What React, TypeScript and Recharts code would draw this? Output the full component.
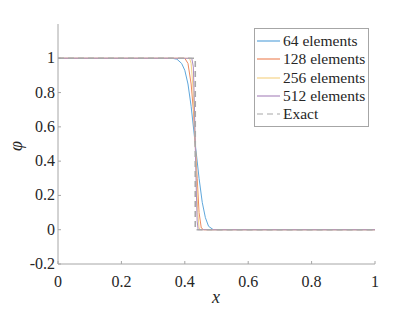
import { LineChart, Line, XAxis, YAxis } from "recharts";

// phi(x) profiles
const x64 = [0, 0.36, 0.375, 0.39, 0.4, 0.41, 0.42, 0.433, 0.445, 0.455, 0.465, 0.475, 0.49, 1];
const phi64 = [1, 1, 0.995, 0.97, 0.93, 0.85, 0.72, 0.5, 0.3, 0.16, 0.07, 0.02, 0, 0];

const x128 = [0, 0.4, 0.41, 0.42, 0.427, 0.433, 0.439, 0.445, 0.452, 0.46, 1];
const phi128 = [1, 1, 0.97, 0.85, 0.7, 0.5, 0.3, 0.1, 0.01, 0, 0];

const x256 = [0, 0.415, 0.42, 0.425, 0.43, 0.433, 0.437, 0.441, 0.445, 0.45, 1];
const phi256 = [1, 1, 0.97, 0.85, 0.65, 0.5, 0.3, 0.1, 0.01, 0, 0];

const x512 = [0, 0.422, 0.427, 0.43, 0.433, 0.436, 0.439, 0.442, 1];
const phi512 = [1, 1, 0.95, 0.75, 0.5, 0.25, 0.05, 0, 0];

const xExact = [0, 0.433, 0.433, 1];
const phiExact = [1, 1, 0, 0];

const xTicks = [0, 0.2, 0.4, 0.6, 0.8, 1];
const yTicks = [-0.2, 0, 0.2, 0.4, 0.6, 0.8, 1];

const zip = (xs: number[], ys: number[]) => xs.map((x, i) => ({ x, phi: ys[i] }));

const series = [
  { name: "64 elements", data: zip(x64, phi64), color: "#5fa7dc", dash: undefined },
  { name: "128 elements", data: zip(x128, phi128), color: "#ee8a60", dash: undefined },
  { name: "256 elements", data: zip(x256, phi256), color: "#f5d488", dash: undefined },
  { name: "512 elements", data: zip(x512, phi512), color: "#ae8cc0", dash: undefined },
  { name: "Exact", data: zip(xExact, phiExact), color: "#a8a8a8", dash: "6 4" },
];

const FONT = "'Liberation Serif', 'Times New Roman', serif";
const TEXT = "#262626";
const AXIS = "#a6a6a6";

const XTick = (props: any) => {
  const { x, y, payload } = props;
  return (
    <g>
      <line x1={x} x2={x} y1={y} y2={y - 3} stroke={AXIS} />
      <text x={x} y={y + 23} textAnchor="middle" style={{ fontFamily: FONT, fontSize: 16 }} fill={TEXT}>
        {payload.value}
      </text>
    </g>
  );
};

const YTick = (props: any) => {
  const { x, y, payload } = props;
  return (
    <g>
      <line x1={x} x2={x + 3} y1={y} y2={y} stroke={AXIS} />
      <text x={x - 3} y={y + 5} textAnchor="end" style={{ fontFamily: FONT, fontSize: 16 }} fill={TEXT}>
        {payload.value}
      </text>
    </g>
  );
};

const LegendBox = () => (
  <div
    style={{
      position: "absolute",
      left: 254,
      top: 28,
      border: `1px solid ${AXIS}`,
      background: "#fff",
      width: 113,
      padding: "3px 0 3px 0",
      fontFamily: FONT,
      fontSize: 15.5,
      color: TEXT,
    }}
  >
    {series.map((s) => (
      <div key={s.name} style={{ display: "flex", alignItems: "center", height: 18.3 }}>
        <svg width={28} height={10} style={{ flexShrink: 0 }}>
          <line x1={2} x2={25} y1={5} y2={5} stroke={s.color} strokeWidth={1.2} strokeDasharray={s.dash} />
        </svg>
        <span style={{ whiteSpace: "nowrap", lineHeight: "18px" }}>{s.name}</span>
      </div>
    ))}
  </div>
);

export default function App() {
  return (
    <div style={{ position: "absolute", left: 0, top: 0, width: 415, height: 314, background: "#fff" }}>
      <LineChart width={415} height={314} margin={{ top: 24, right: 40, bottom: 0, left: 0 }}>
        <XAxis
          dataKey="x"
          type="number"
          domain={[0, 1]}
          ticks={xTicks}
          interval={0}
          tick={<XTick />}
          tickLine={false}
          tickSize={0}
          tickMargin={0}
          stroke={AXIS}
          height={50}
          allowDuplicatedCategory={false}
        />
        <YAxis
          type="number"
          domain={[-0.2, 1.2]}
          ticks={yTicks}
          interval={0}
          tick={<YTick />}
          tickLine={false}
          tickSize={0}
          tickMargin={0}
          stroke={AXIS}
          width={58}
          allowDataOverflow
        />
        {series.map((s) => (
          <Line
            key={s.name}
            data={s.data}
            dataKey="phi"
            name={s.name}
            type="linear"
            stroke={s.color}
            strokeWidth={s.dash ? 1.6 : 1}
            strokeDasharray={s.dash}
            dot={false}
            isAnimationActive={false}
          />
        ))}
        <text
          x={22}
          y={146}
          style={{ fontFamily: FONT, fontStyle: "italic", fontSize: 18 }}
          fill={TEXT}
          transform="rotate(-90 22 146)"
          textAnchor="middle"
        >
          φ
        </text>
        <text x={216} y={303} style={{ fontFamily: FONT, fontStyle: "italic", fontSize: 18 }} fill={TEXT} textAnchor="middle">
          x
        </text>
      </LineChart>
      <LegendBox />
    </div>
  );
}
